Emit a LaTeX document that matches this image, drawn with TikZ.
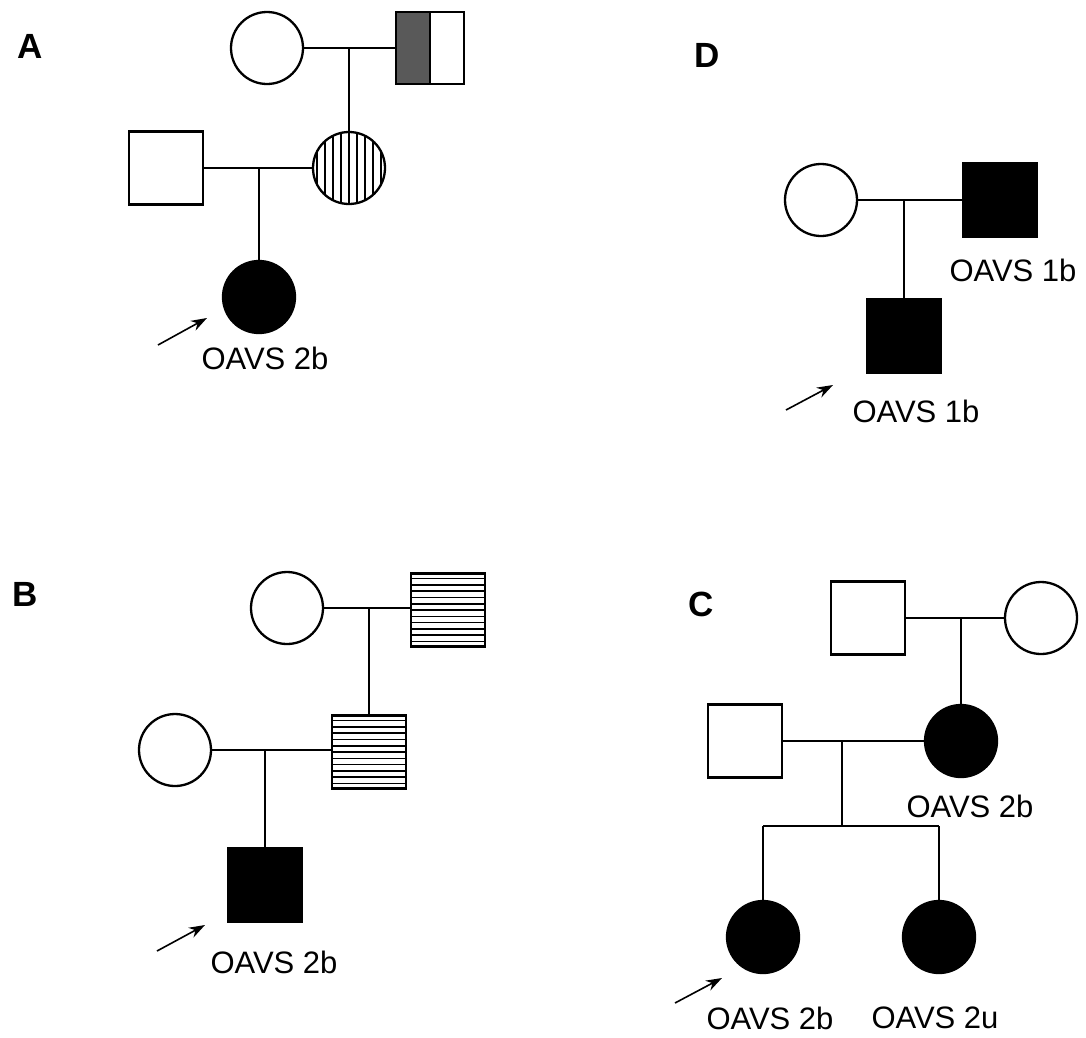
\documentclass[tikz,border=0pt]{standalone}
\usepackage{fontspec}
\setmainfont{Liberation Sans}
\usetikzlibrary{arrows.meta,calc}
\begin{document}
\begin{tikzpicture}[x=1pt,y=-1pt,
  base/.style={draw=black,line width=2.3pt,inner sep=0pt,outer sep=0pt},
  fem/.style={base,circle,minimum size=72pt},
  male/.style={base,rectangle,minimum width=74pt,minimum height=73pt},
  aff/.style={fill=black},
  vstripes/.style={path picture={\foreach \k in {-4,...,4}
      \draw[line width=1.7pt] ([xshift=\k*8pt]path picture bounding box.south) -- ([xshift=\k*8pt]path picture bounding box.north);}},
  hstripes/.style={path picture={\foreach \k in {-5,...,5}
      \draw[line width=1.6pt] ([yshift=\k*6.3pt]path picture bounding box.west) -- ([yshift=\k*6.3pt]path picture bounding box.east);}},
  halfshade/.style={path picture={\fill[black!65] (path picture bounding box.south west) rectangle (path picture bounding box.north);
      \draw[line width=1.8pt] (path picture bounding box.south) -- (path picture bounding box.north);}},
  link/.style={draw=black,line width=2pt},
  arr/.style={draw=black,line width=1.6pt,-{Stealth[length=16pt,width=11pt]}},
  lbl/.style={font=\fontsize{31}{34}\selectfont,inner sep=0pt},
  panel/.style={font=\fontsize{35}{38}\selectfont\bfseries,inner sep=0pt}]
\useasboundingbox[fill=white] (0,0) rectangle (1086,1037);

% ---------- Panel A ----------
\node[panel] (pA) at (30,46) {A};
\node[fem] (a1) at (267,48) {};
\node[male,halfshade,minimum width=68pt,minimum height=72pt] (a2) at (430,48) {};
\node[male] (a3) at (166,168) {};
\node[fem,vstripes] (a4) at (349,168) {};
\node[fem,aff] (a5) at (259,297) {};
\draw[link] (a1.east) -- (a2.west);
\draw[link] (a4.north |- a1.east) -- (a4.north);
\draw[link] (a3.east) -- (a4.west);
\draw[link] (a5.north |- a3.east) -- (a5.north);
\node[lbl] (la5) at (265,358) {OAVS 2b};
\coordinate (aA0) at (158,345);
\coordinate (aA1) at (207,318);
\draw[arr] (aA0) -- (aA1);

% ---------- Panel D ----------
\node[panel] (pD) at (707,55) {D};
\node[fem] (d1) at (821,200) {};
\node[male,aff] (d2) at (1000,200) {};
\node[male,aff] (d3) at (904,336) {};
\draw[link] (d1.east) -- (d2.west);
\draw[link] (d3.north |- d1.east) -- (d3.north);
\node[lbl] (ld2) at (1013,270) {OAVS 1b};
\node[lbl] (ld3) at (916,411) {OAVS 1b};
\coordinate (aD0) at (786,410);
\coordinate (aD1) at (833,385);
\draw[arr] (aD0) -- (aD1);

% ---------- Panel B ----------
\node[panel] (pB) at (25,594) {B};
\node[fem] (b1) at (287,608) {};
\node[male,hstripes] (b2) at (448,610) {};
\node[male,hstripes] (b3) at (369,752) {};
\node[fem] (b4) at (175,750) {};
\node[male,aff] (b5) at (265,885) {};
\draw[link] (b1.east) -- (b2.west |- b1.east);
\draw[link] (b3.north |- b1.east) -- (b3.north);
\draw[link] (b4.east) -- (b3.west |- b4.east);
\draw[link] (b5.north |- b4.east) -- (b5.north);
\node[lbl] (lb5) at (274,962) {OAVS 2b};
\coordinate (aB0) at (157,951);
\coordinate (aB1) at (205,925);
\draw[arr] (aB0) -- (aB1);

% ---------- Panel C ----------
\node[panel] (pC) at (701,604) {C};
\node[male] (c1) at (868,618) {};
\node[fem] (c2) at (1041,618) {};
\node[male] (c3) at (745,741) {};
\node[fem,aff] (c4) at (961,741) {};
\node[fem,aff] (c5) at (763,937) {};
\node[fem,aff] (c6) at (939,937) {};
\draw[link] (c1.east) -- (c2.west);
\draw[link] (c4.north |- c1.east) -- (c4.north);
\draw[link] (c3.east) -- (c4.west);
\coordinate (cm) at (842,741);
\coordinate (cs) at (842,826);
\draw[link] (cm) -- (cs);
\draw[link] (c5.north |- cs) -- (c6.north |- cs);
\draw[link] (c5.north |- cs) -- (c5.north);
\draw[link] (c6.north |- cs) -- (c6.north);
\node[lbl] (lc4) at (970,806) {OAVS 2b};
\node[lbl] (lc5) at (770,1018) {OAVS 2b};
\node[lbl] (lc6) at (935,1018) {OAVS 2u};
\coordinate (aC0) at (675,1003);
\coordinate (aC1) at (722,978);
\draw[arr] (aC0) -- (aC1);
\end{tikzpicture}
\end{document}
